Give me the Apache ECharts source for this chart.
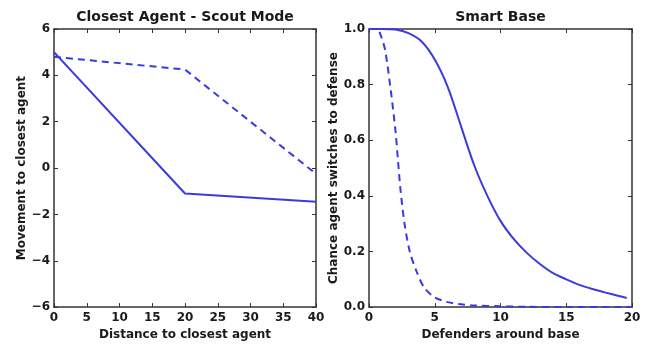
<!DOCTYPE html>
<html><head><meta charset="utf-8">
<script src="https://cdn.jsdelivr.net/npm/echarts@6/dist/echarts.min.js"></script>
<style>html,body{margin:0;padding:0;background:#fff}#c{width:647px;height:346px}</style>
</head><body><div id="c"></div>
<script>
// Left panel: Closest Agent - Scout Mode
const scoutDistance = [0, 20, 40];
const scoutSolid = [5.0, -1.1, -1.45];
const scoutDashed = [4.8, 4.25, -0.25];
// Right panel: Smart Base
const baseSolidX = [0, 1, 2, 3, 4, 5, 6, 7, 8, 9, 10, 11, 12, 13, 14, 15, 16, 17, 18, 19, 19.6];
const baseSolidY = [1.0, 1.0, 0.998, 0.985, 0.955, 0.89, 0.79, 0.65, 0.51, 0.40, 0.31, 0.245, 0.195, 0.155, 0.122, 0.1, 0.08, 0.065, 0.052, 0.04, 0.033];
const baseDashedX = [0.8, 1.2, 1.6, 2.0, 2.2, 2.4, 2.7, 3.1, 3.6, 4.2, 5, 6, 7, 8, 10, 12, 15, 20];
const baseDashedY = [0.99, 0.93, 0.80, 0.64, 0.53, 0.42, 0.30, 0.20, 0.13, 0.07, 0.035, 0.018, 0.01, 0.006, 0.003, 0.001, 0.0, 0.0];
const titles = ['Closest Agent - Scout Mode', 'Smart Base'];
const xNames = ['Distance to closest agent', 'Defenders around base'];
const yNames = ['Movement to closest agent', 'Chance agent switches to defense'];

const FONT = 'DejaVu Sans';
const BLUE = '#3a3ae0';
const txt = {fontFamily: FONT, color: '#1a1a1a', fontSize: 12, fontWeight: 'bold'};
function zip(a, b) { return a.map((v, i) => [v, b[i]]); }

const grids = [
  {left: 54, top: 29, width: 262, height: 283},
  {left: 369, top: 29, width: 263, height: 281}
];
const xr = [{min: 0, max: 40, interval: 5}, {min: 0, max: 20, interval: 5}];
const yr = [{min: -6, max: 6, interval: 2}, {min: 0, max: 1, interval: 0.2}];
const yFmt = [v => (v < 0 ? '\u2212' + Math.abs(v) : String(v)), v => v.toFixed(1)];
const axLine = {show: true, onZero: false, lineStyle: {color: '#333', width: 1.5}};
const axTick = {show: true, inside: true, length: 4, lineStyle: {color: '#333'}};

const xAxis = [], yAxis = [];
[0, 1].forEach(g => {
  xAxis.push({type: 'value', gridIndex: g, min: xr[g].min, max: xr[g].max, interval: xr[g].interval,
    position: 'bottom', name: xNames[g], nameLocation: 'middle', nameGap: 18,
    nameTextStyle: Object.assign({}, txt),
    axisLine: axLine, axisTick: axTick,
    axisLabel: Object.assign({}, txt, {margin: 5}),
    splitLine: {show: false}});
  xAxis.push({type: 'value', gridIndex: g, min: xr[g].min, max: xr[g].max, interval: xr[g].interval,
    position: 'top', name: titles[g], nameLocation: 'middle', nameGap: 5,
    nameTextStyle: Object.assign({}, txt, {fontSize: 14}),
    axisLine: axLine, axisTick: axTick,
    axisLabel: {show: false}, splitLine: {show: false}});
  yAxis.push({type: 'value', gridIndex: g, min: yr[g].min, max: yr[g].max, interval: yr[g].interval,
    position: 'left', name: yNames[g], nameLocation: 'middle', nameGap: g === 0 ? 25 : 28,
    nameTextStyle: Object.assign({}, txt),
    axisLine: axLine, axisTick: axTick,
    axisLabel: Object.assign({}, txt, {margin: 4, formatter: yFmt[g]}),
    splitLine: {show: false}});
  yAxis.push({type: 'value', gridIndex: g, min: yr[g].min, max: yr[g].max, interval: yr[g].interval,
    position: 'right',
    axisLine: axLine, axisTick: axTick,
    axisLabel: {show: false}, splitLine: {show: false}});
});

const lineBase = {type: 'line', symbol: 'none', lineStyle: {color: BLUE, width: 2}};
const dashStyle = {color: BLUE, width: 2, type: [7, 5]};
const series = [
  Object.assign({}, lineBase, {xAxisIndex: 0, yAxisIndex: 0, data: zip(scoutDistance, scoutSolid)}),
  Object.assign({}, lineBase, {xAxisIndex: 0, yAxisIndex: 0, data: zip(scoutDistance, scoutDashed), lineStyle: dashStyle}),
  Object.assign({}, lineBase, {xAxisIndex: 2, yAxisIndex: 2, smooth: 0.3, data: zip(baseSolidX, baseSolidY)}),
  Object.assign({}, lineBase, {xAxisIndex: 2, yAxisIndex: 2, smooth: 0.3, data: zip(baseDashedX, baseDashedY), lineStyle: dashStyle})
];

const chart = echarts.init(document.getElementById('c'), null, {renderer: 'canvas'});
chart.setOption({animation: false, backgroundColor: '#fff', grid: grids, xAxis, yAxis, series});
</script></body></html>
